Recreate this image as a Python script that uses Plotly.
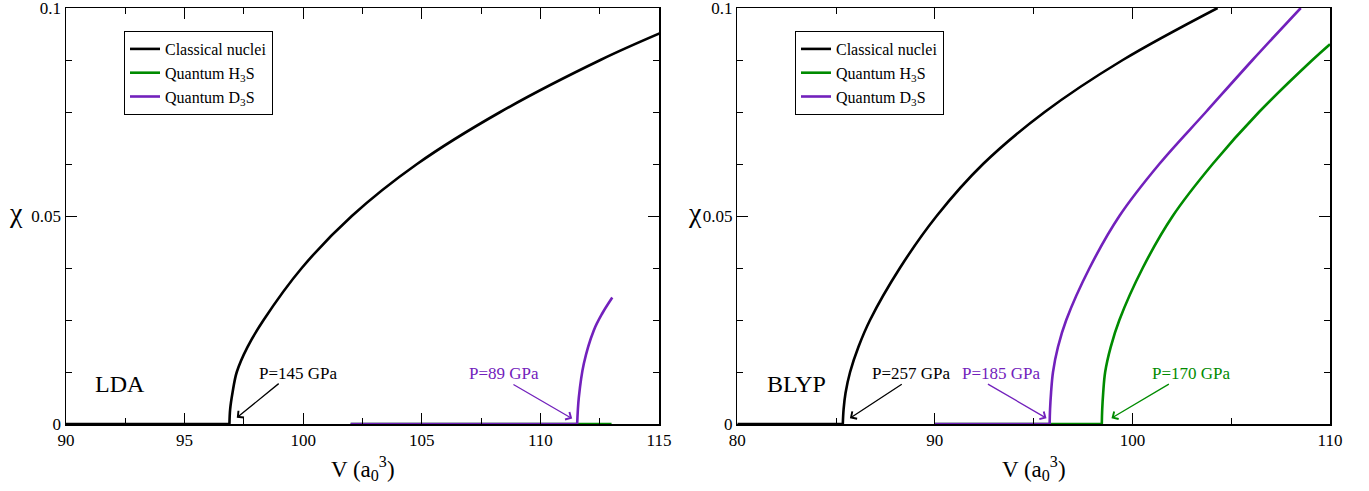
import plotly.graph_objects as go

# ---------------- data ----------------
# LDA panel: flat (x = 0) parts
lda_cl_flat_V = [90, 96.89]
lda_h_flat_V = [102.0, 113.0]
lda_d_flat_V = [102.0, 111.55]
# LDA panel: rising parts
lda_cl_V = [96.89, 96.92, 97.02, 97.20, 97.65, 98.33, 99.94, 102.05, 104.80, 108.31, 112.53, 115.03]
lda_cl_x = [0, 0.0035, 0.0075, 0.0125, 0.0185, 0.025, 0.0375, 0.05, 0.0625, 0.075, 0.0875, 0.0939]
lda_d_V = [111.55, 111.62, 111.83, 112.25, 112.60, 113.03]
lda_d_x = [0, 0.0064, 0.0145, 0.0225, 0.0265, 0.0304]

# BLYP panel: flat parts
blyp_cl_flat_V = [80, 85.34]
blyp_h_flat_V = [90, 98.45]
blyp_d_flat_V = [90, 95.81]
# BLYP panel: rising parts
blyp_cl_V = [85.34, 85.38, 85.48, 85.71, 86.13, 86.72, 88.23, 90.09, 92.44, 95.56, 99.51, 104.31]
blyp_cl_x = [0, 0.0035, 0.0075, 0.0125, 0.0185, 0.025, 0.0375, 0.05, 0.0625, 0.075, 0.0875, 0.1]
blyp_h_V = [98.45, 98.47, 98.52, 98.62, 98.90, 99.34, 100.52, 102.04, 104.06, 106.41, 109.11, 110.0]
blyp_h_x = [0, 0.0035, 0.0075, 0.0125, 0.0185, 0.025, 0.0375, 0.05, 0.0625, 0.075, 0.0875, 0.0913]
blyp_d_V = [95.81, 95.83, 95.88, 95.98, 96.23, 96.65, 97.83, 99.34, 101.36, 103.72, 106.08, 108.52]
blyp_d_x = [0, 0.0035, 0.0075, 0.0125, 0.0185, 0.025, 0.0375, 0.05, 0.0625, 0.075, 0.0875, 0.1]

series_names = ["Classical nuclei", "Quantum H<sub>3</sub>S", "Quantum D<sub>3</sub>S"]
y_tickvals = [0, 0.05, 0.1]
y_ticktext = ["0", "0.05", "0.1"]
lda_xticks = [90, 95, 100, 105, 110, 115]
blyp_xticks = [80, 90, 100, 110]

BLACK = "#000000"
GREEN = "#008b00"
PURPLE = "#7221bc"
FONT = "Liberation Serif, Times New Roman, serif"

# annotations: (label, tip V, tip x, tail V, tail x, text V, colour)
lda_notes = [("P=145 GPa", 97.2, 0.0015, 99.03, 0.0100, 99.8, BLACK),
             ("P=89 GPa", 111.34, 0.0013, 108.8, 0.0097, 108.45, PURPLE)]
blyp_notes = [("P=257 GPa", 85.70, 0.0014, 88.40, 0.0098, 88.82, BLACK),
              ("P=185 GPa", 95.65, 0.0014, 92.61, 0.0098, 93.37, PURPLE),
              ("P=170 GPa", 98.94, 0.0014, 101.92, 0.0098, 102.98, GREEN)]
note_text_y = 0.0122

W, H = 1369, 491
fig = go.Figure()
LW = 2.6


def add_series(flat_V, V, x, name, color, xa, ya, leg, rank):
    grp = f"{leg}-{rank}"
    fig.add_trace(go.Scatter(x=flat_V, y=[0] * len(flat_V), mode="lines", name=name,
                             line=dict(color=color, width=LW), xaxis=xa, yaxis=ya,
                             legend=leg, legendgroup=grp, showlegend=False,
                             hoverinfo="skip"))
    if V:
        fig.add_trace(go.Scatter(x=V, y=x, mode="lines", name=name,
                                 line=dict(color=color, width=LW, shape="spline", smoothing=1.0),
                                 xaxis=xa, yaxis=ya, legend=leg, legendgroup=grp,
                                 legendrank=rank, showlegend=True, hoverinfo="skip"))
    else:
        fig.add_trace(go.Scatter(x=[None], y=[None], mode="lines", name=name,
                                 line=dict(color=color, width=LW), xaxis=xa, yaxis=ya,
                                 legend=leg, legendgroup=grp, legendrank=rank,
                                 showlegend=True, hoverinfo="skip"))


# left panel (green drawn under purple)
add_series(lda_h_flat_V, [], [], series_names[1], GREEN, "x", "y", "legend", 2)
add_series(lda_d_flat_V, lda_d_V, lda_d_x, series_names[2], PURPLE, "x", "y", "legend", 3)
add_series(lda_cl_flat_V, lda_cl_V, lda_cl_x, series_names[0], BLACK, "x", "y", "legend", 1)
# right panel
add_series(blyp_h_flat_V, blyp_h_V, blyp_h_x, series_names[1], GREEN, "x2", "y2", "legend2", 2)
add_series(blyp_d_flat_V, blyp_d_V, blyp_d_x, series_names[2], PURPLE, "x2", "y2", "legend2", 3)
add_series(blyp_cl_flat_V, blyp_cl_V, blyp_cl_x, series_names[0], BLACK, "x2", "y2", "legend2", 1)

ydom = [(H - 424) / H, (H - 8) / H]
xdom1 = [66 / W, 659 / W]
xdom2 = [737.3 / W, 1330 / W]

common_axis = dict(showgrid=False, zeroline=False, showline=True, linecolor="black",
                   linewidth=1.5, mirror="allticks", ticks="inside", ticklen=11,
                   tickwidth=1, tickcolor="black", ticklabeloverflow="allow",
                   tickfont=dict(family=FONT, size=17, color="black"),
                   automargin=False, fixedrange=True)


def xaxis(dom, rng, tickvals, minor_dtick, anchor):
    return dict(domain=dom, range=rng, anchor=anchor, tickmode="array",
                tickvals=tickvals, ticktext=[str(v) for v in tickvals],
                minor=dict(dtick=minor_dtick, tick0=rng[0], ticks="inside", ticklen=6,
                           tickwidth=1, tickcolor="black", showgrid=False),
                **common_axis)


def yaxis(anchor):
    return dict(domain=ydom, range=[0, 0.1], anchor=anchor, tickmode="array",
                tickvals=y_tickvals, ticktext=y_ticktext,
                minor=dict(dtick=0.0125, tick0=0, ticks="inside", ticklen=6, tickwidth=1,
                           tickcolor="black", showgrid=False),
                **common_axis)


legend_common = dict(bgcolor="white", bordercolor="black", borderwidth=1,
                     font=dict(family=FONT, size=16, color="black"),
                     xanchor="left", yanchor="top", traceorder="normal",
                     itemwidth=30, tracegroupgap=0)

annotations = []


def add_notes(notes, xr, yr):
    for label, tv, tx, av, ax, txv, col in notes:
        annotations.append(dict(x=tv, y=tx, ax=av, ay=ax, xref=xr, yref=yr,
                                axref=xr, ayref=yr, text="", showarrow=True,
                                arrowhead=4, arrowsize=1.3, arrowwidth=1.3,
                                arrowcolor=col))
        annotations.append(dict(x=txv, y=note_text_y, xref=xr, yref=yr, text=label,
                                showarrow=False, font=dict(family=FONT, size=17, color=col),
                                xanchor="center", yanchor="middle"))


add_notes(lda_notes, "x", "y")
add_notes(blyp_notes, "x2", "y2")

# panel labels
annotations.append(dict(x=92.28, y=0.0095, xref="x", yref="y", text="LDA", showarrow=False,
                        font=dict(family=FONT, size=24, color="black")))
annotations.append(dict(x=83.02, y=0.0095, xref="x2", yref="y2", text="BLYP", showarrow=False,
                        font=dict(family=FONT, size=24, color="black")))

# axis titles
for cx in [(66 + 659) / 2 / W, (737.3 + 1330) / 2 / W]:
    annotations.append(dict(x=cx, y=(H - 468) / H, xref="paper", yref="paper",
                            text="V (a<sub>0</sub><sup>3</sup>)", showarrow=False,
                            font=dict(family=FONT, size=23, color="black"),
                            xanchor="center", yanchor="middle"))
for cx in [16 / W, 695 / W]:
    annotations.append(dict(x=cx, y=(H - 212) / H, xref="paper", yref="paper",
                            text="χ", showarrow=False,
                            font=dict(family=FONT, size=28, color="black"),
                            xanchor="center", yanchor="middle"))

fig.update_layout(
    width=W, height=H, margin=dict(l=0, r=0, t=0, b=0),
    paper_bgcolor="white", plot_bgcolor="white",
    xaxis=xaxis(xdom1, [90, 115], lda_xticks, 2.5, "y"),
    yaxis=yaxis("x"),
    xaxis2=xaxis(xdom2, [80, 110], blyp_xticks, 5, "y2"),
    yaxis2=yaxis("x2"),
    legend=dict(x=124 / W, y=(H - 31) / H, **legend_common),
    legend2=dict(x=795 / W, y=(H - 31) / H, **legend_common),
    annotations=annotations,
    showlegend=True,
)

fig.write_html("out.html", config={"displayModeBar": False, "staticPlot": True})
